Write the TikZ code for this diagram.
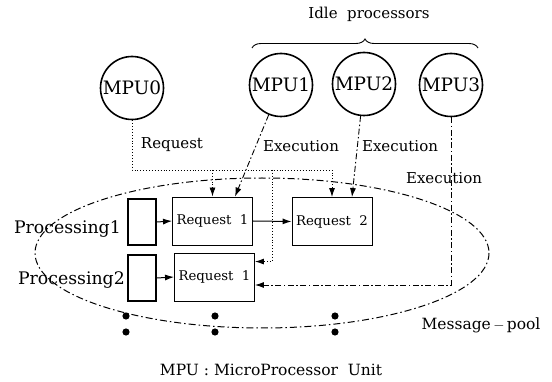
\documentclass[tikz,border=0pt]{standalone}
\usepackage{fontspec}
\setmainfont{DejaVu Serif}
\usetikzlibrary{arrows.meta,calc,decorations.pathreplacing}
\begin{document}
\begin{tikzpicture}[x=1pt,y=-1pt,
  mpu/.style={circle,draw,line width=1.6pt,minimum size=63pt,inner sep=0pt,font=\fontsize{18.5}{20}\selectfont},
  smallbox/.style={draw,line width=1.8pt,minimum width=28pt,minimum height=46pt,inner sep=0pt},
  reqbox/.style={draw,line width=0.9pt,minimum width=80pt,minimum height=48pt,inner sep=0pt,font=\fontsize{13.3}{15}\selectfont},
  lbl/.style={font=\fontsize{15}{17}\selectfont,inner sep=0pt},
  plbl/.style={font=\fontsize{17.3}{19}\selectfont,inner sep=0pt},
  tip/.style={-{Latex[length=9pt,width=6pt]}},
  reqline/.style={dotted,line width=0.9pt},
  exeline/.style={line width=0.9pt,dash pattern=on 6pt off 2.5pt on 1.5pt off 2.5pt},
  pool/.style={line width=1pt,dash pattern=on 7pt off 3pt on 1.5pt off 3pt}]
\useasboundingbox (0,0) rectangle (552,382);
% processors
\node[mpu] (m0) at (132,88) {MPU0};
\node[mpu] (m1) at (281,85) {MPU1};
\node[mpu] (m2) at (364,84) {MPU2};
\node[mpu] (m3) at (451,85) {MPU3};
% brace
\coordinate (bl) at (252,48);
\coordinate (br) at (478,48);
\draw[line width=0.9pt,decorate,decoration={brace,amplitude=9pt}] (bl) -- (br);
\node[lbl] (idle) at (369,14) {Idle~~processors};
% message pool ellipse
\draw[pool] (262,253) ellipse [x radius=227, y radius=75];
% boxes
\node[smallbox] (p1) at (142,222) {};
\node[smallbox] (p2) at (142,278) {};
\node[reqbox] (r1) at (212.5,221) {Request~~1};
\node[reqbox] (r2) at (332,221.5) {Request~~2};
\node[reqbox] (r3) at (214.5,277) {Request~~1};
\node[plbl,anchor=east] (pl1) at (121,229) {Processing1};
\node[plbl,anchor=east] (pl2) at (125,280) {Processing2};
% solid arrows
\draw[line width=1pt,tip] (p1.east) -- (r1.west);
\draw[line width=1pt,tip] (p2.east) -- (r3.west);
\draw[line width=1pt,tip] (r1.east) -- (r2.west);
% request (dotted)
\coordinate (rq) at (132,170);
\coordinate (rqb) at (272,170);
\coordinate (r3in) at ($(r3.north east)+(0,9)$);
\draw[reqline,tip] (m0.south) |- (r2.north |- rq) -- (r2.north);
\draw[reqline,tip] (r1.north |- rq) -- (r1.north);
\draw[reqline,tip] (rqb) |- (r3in);
\node[lbl] (lreq) at (172,145) {Request};
% execution (dash-dot)
\coordinate (e1) at ($(r1.north)+(22.5,0)$);
\coordinate (e2) at ($(r2.north)+(20,0)$);
\coordinate (e3) at ($(r3.east)+(0,8)$);
\draw[exeline,tip] (m1) -- (e1);
\draw[exeline,tip] (m2) -- (e2);
\draw[exeline,tip] (m3.south) |- (e3);
\node[lbl] (lx1) at (301,146) {Execution};
\node[lbl] (lx2) at (400,146) {Execution};
\node[lbl] (lx3) at (444,178) {Execution};
% dots
\foreach \x in {126,215,335}{
  \fill (\x,316) circle [radius=3.6pt];
  \fill (\x,332) circle [radius=3.6pt];
}
\node[lbl,font=\fontsize{15.5}{17}\selectfont] (mp) at (481,325) {Message$\,-\,$pool};
\node[lbl,font=\fontsize{15.5}{17}\selectfont] (cap) at (271,370) {MPU : MicroProcessor~~Unit};
\end{tikzpicture}
\end{document}
